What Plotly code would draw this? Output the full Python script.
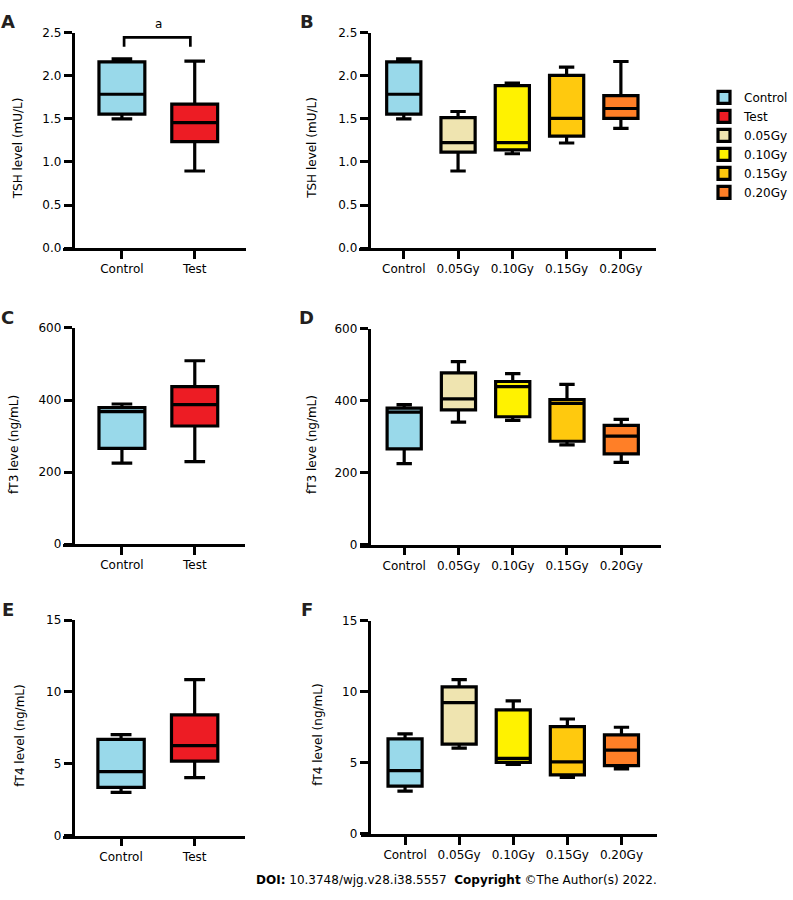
import plotly.graph_objects as go

W, H = 793, 900

# ---------------- data ----------------
groups_ab = ["Control", "Test"]
groups_dose = ["Control", "0.05Gy", "0.10Gy", "0.15Gy", "0.20Gy"]

colors = {
    "Control": "#99D9EA",
    "Test": "#ED1C24",
    "0.05Gy": "#EFE4B0",
    "0.10Gy": "#FFF200",
    "0.15Gy": "#FFC90E",
    "0.20Gy": "#FF7F27",
}

# stats order: lower whisker, q1, median, q3, upper whisker
tsh_stats = {
    "Control": [1.50, 1.555, 1.785, 2.16, 2.195],
    "Test":    [0.895, 1.235, 1.455, 1.67, 2.17],
    "0.05Gy":  [0.895, 1.115, 1.225, 1.515, 1.585],
    "0.10Gy":  [1.095, 1.14, 1.225, 1.885, 1.915],
    "0.15Gy":  [1.22, 1.30, 1.505, 2.005, 2.10],
    "0.20Gy":  [1.39, 1.505, 1.62, 1.77, 2.165],
}
ft3_stats = {
    "Control": [225, 266, 368, 379, 389],
    "Test":    [229, 328, 387, 437, 509],
    "0.05Gy":  [340, 374, 405, 477, 508],
    "0.10Gy":  [345, 355, 439, 453, 475],
    "0.15Gy":  [277, 287, 392, 403, 445],
    "0.20Gy":  [228, 252, 301, 331, 348],
}
ft4_stats = {
    "Control": [3.01, 3.36, 4.45, 6.69, 7.03],
    "Test":    [4.04, 5.18, 6.26, 8.40, 10.85],
    "0.05Gy":  [6.04, 6.32, 9.23, 10.34, 10.85],
    "0.10Gy":  [4.89, 5.03, 5.31, 8.72, 9.35],
    "0.15Gy":  [3.97, 4.15, 5.06, 7.55, 8.08],
    "0.20Gy":  [4.57, 4.80, 5.89, 6.97, 7.50],
}

tsh_ticks = [0.0, 0.5, 1.0, 1.5, 2.0, 2.5]
ft3_ticks = [0, 200, 400, 600]
ft4_ticks = [0, 5, 10, 15]

FONT = "DejaVu Sans"


def px(x):
    return x / W


def py(y):
    return 1 - y / H


# panel geometry in pixels: x-domain, y-domain(top,bottom), x range, y-axis line position
panels = [
    dict(name="A", groups=groups_ab, stats=tsh_stats, ticks=tsh_ticks, yr=[0, 2.5], fmt=".1f",
         xd=(63, 246), yd=(26, 245), xr=[-0.81, 1.70], yx=72.7,
         title="TSH level (mU/L)", tx=18, lx=8),
    dict(name="B", groups=groups_dose, stats=tsh_stats, ticks=tsh_ticks, yr=[0, 2.5], fmt=".1f",
         xd=(359.5, 657), yd=(26, 245), xr=[-0.824, 4.65], yx=369,
         title="TSH level (mU/L)", tx=313, lx=307),
    dict(name="C", groups=groups_ab, stats=ft3_stats, ticks=ft3_ticks, yr=[0, 600], fmt="d",
         xd=(63, 245), yd=(326, 545.7), xr=[-0.81, 1.685], yx=72.7,
         title="fT3 leve (ng/mL)", tx=14, lx=8),
    dict(name="D", groups=groups_dose, stats=ft3_stats, ticks=ft3_ticks, yr=[0, 600], fmt="d",
         xd=(360.7, 661.7), yd=(326.7, 546), xr=[-0.81, 4.73], yx=369,
         title="fT3 leve (ng/mL)", tx=313, lx=307),
    dict(name="E", groups=groups_ab, stats=ft4_stats, ticks=ft4_ticks, yr=[0, 15], fmt="d",
         xd=(63, 245), yd=(622.7, 841.7), xr=[-0.79, 1.68], yx=72.7,
         title="fT4 level (ng/mL)", tx=20, lx=8),
    dict(name="F", groups=groups_dose, stats=ft4_stats, ticks=ft4_ticks, yr=[0, 15], fmt="d",
         xd=(361.7, 658), yd=(623.3, 840), xr=[-0.81, 4.66], yx=369,
         title="fT4 level (ng/mL)", tx=319, lx=307),
]

fig = go.Figure()
shown = set()
annotations = []
layout = {}

for i, p in enumerate(panels, start=1):
    xa = "x" if i == 1 else f"x{i}"
    ya = "y" if i == 1 else f"y{i}"
    xkey = "xaxis" if i == 1 else f"xaxis{i}"
    ykey = "yaxis" if i == 1 else f"yaxis{i}"
    for g in p["groups"]:
        lo, q1, med, q3, hi = p["stats"][g]
        fig.add_trace(go.Box(
            x=[g], q1=[q1], median=[med], q3=[q3], lowerfence=[lo], upperfence=[hi],
            name=g, legendgroup=g, showlegend=g not in shown,
            fillcolor=colors[g], line=dict(color="black", width=3.2),
            width=0.63, whiskerwidth=0.45, boxpoints=False, hoverinfo="skip",
            xaxis=xa, yaxis=ya,
        ))
        shown.add(g)
    layout[xkey] = dict(
        domain=[px(p["xd"][0]), px(p["xd"][1])], anchor=ya,
        type="category", categoryorder="array", categoryarray=p["groups"],
        range=p["xr"], showline=True, linecolor="black", linewidth=2.7,
        ticks="outside", ticklen=8, tickwidth=2.7, tickcolor="black",
        showgrid=False, zeroline=False,
        tickfont=dict(family=FONT, size=12, color="black"),
    )
    layout[ykey] = dict(
        domain=[py(p["yd"][1]), py(p["yd"][0])], anchor="free", position=px(p["yx"]),
        range=p["yr"], tickvals=p["ticks"], tickformat=p["fmt"],
        showline=True, linecolor="black", linewidth=2.7,
        ticks="outside", ticklen=8, tickwidth=2.7, tickcolor="black",
        showgrid=False, zeroline=False,
        tickfont=dict(family=FONT, size=12, color="black"),
    )
    annotations.append(dict(
        text=p["title"], textangle=-90, xref="paper", yref="paper",
        x=px(p["tx"]), y=py((p["yd"][0] + p["yd"][1]) / 2 + 8),
        xanchor="center", yanchor="middle", showarrow=False,
        font=dict(family=FONT, size=12, color="black"),
    ))
    annotations.append(dict(
        text=f"<b>{p['name']}</b>", xref="paper", yref="paper",
        x=px(p["lx"]), y=py(p["yd"][0] - 11),
        xanchor="center", yanchor="middle", showarrow=False,
        font=dict(family=FONT, size=18, color="#231F20"),
    ))

# significance bracket in panel A
fig.add_shape(type="path", xref="x", yref="y",
              path="M 0.03 2.335 L 0.03 2.445 L 0.94 2.445 L 0.94 2.335",
              line=dict(color="black", width=2.7))
annotations.append(dict(text="a", xref="x", yref="y", x=0.5, y=2.50,
                        xanchor="center", yanchor="bottom", showarrow=False,
                        font=dict(family=FONT, size=12, color="black")))

annotations.append(dict(
    text="<b>DOI:</b> 10.3748/wjg.v28.i38.5557\u00a0\u00a0<b>Copyright</b> \u00a9The Author(s) 2022.",
    xref="paper", yref="paper", x=px(660), y=py(887), xanchor="right", yanchor="middle",
    showarrow=False, font=dict(family=FONT, size=12, color="black"),
))

fig.update_layout(
    width=W, height=H, margin=dict(l=0, r=0, t=0, b=0),
    paper_bgcolor="white", plot_bgcolor="white",
    boxmode="overlay",
    showlegend=True,
    legend=dict(x=px(705), y=py(77), xanchor="left", yanchor="top",
                font=dict(family=FONT, size=12, color="black"),
                bgcolor="rgba(0,0,0,0)", tracegroupgap=0),
    annotations=annotations,
    **layout,
)

fig.write_html(
    "out.html",
    config={"displayModeBar": False},
    post_script="document.body.style.margin='0';document.body.style.overflow='hidden';",
)
